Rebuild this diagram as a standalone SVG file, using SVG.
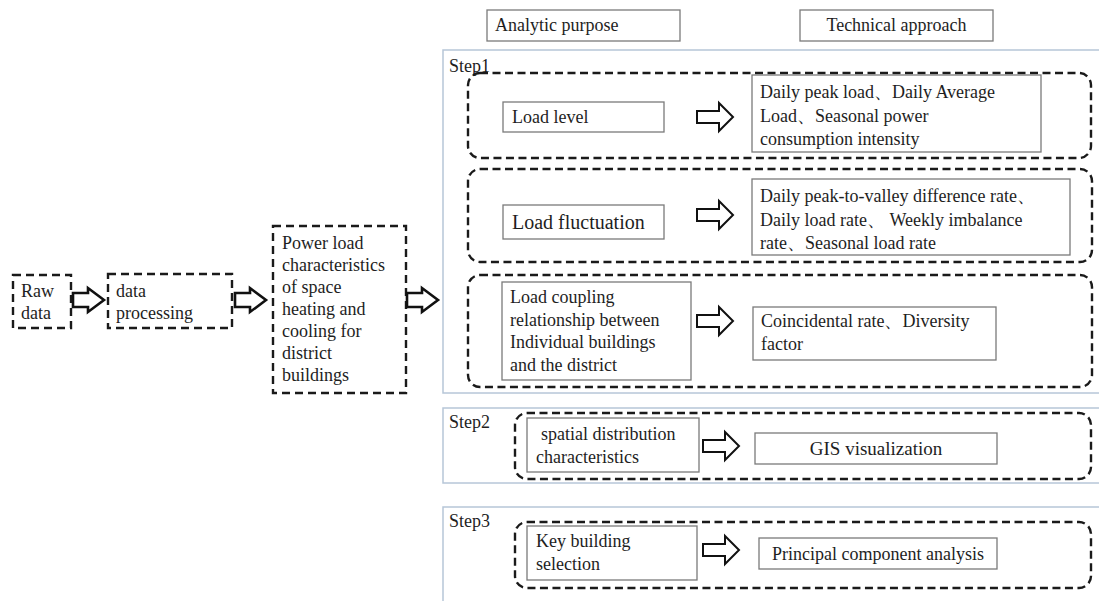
<svg xmlns="http://www.w3.org/2000/svg" xmlns:xlink="http://www.w3.org/1999/xlink" width="1099" height="601" viewBox="0 0 1099 601">
<style>
text{font-family:"Liberation Serif","Times New Roman",serif;font-size:18px;fill:#1e1e1e}
.step{fill:none;stroke:#b7c6d8;stroke-width:1.5}
.dashr{fill:none;stroke:#1a1a1a;stroke-width:2.4;stroke-dasharray:8 4.5}
.dashl{fill:none;stroke:#1a1a1a;stroke-width:2.4;stroke-dasharray:8 5}
.box{fill:#fff;stroke:#7a7a7a;stroke-width:1.3}
.arr{fill:#fff;stroke:#111;stroke-width:2}
.arrl{fill:#fff;stroke:#111;stroke-width:2.6}
.c{text-anchor:middle}
</style>
<defs>
<path id="arrR" d="M0,-6 H22 V-14 L36,0 L22,14 V6 H0 Z"/>
<path id="arrL" d="M0,-7 H15 V-12 L31,0 L15,12 V7 H0 Z"/>
</defs>
<rect width="1099" height="601" fill="#fff"/>

<g id="header-analytic"><rect class="box" x="487" y="10" width="193" height="31"/><text x="495" y="31">Analytic purpose</text></g>
<g id="header-technical"><rect class="box" x="800" y="10" width="193" height="31"/><text class="c" x="896.5" y="31">Technical approach</text></g>

<g id="raw-data"><rect class="dashl" x="13" y="275" width="58" height="53"/><text x="21" y="297">Raw</text><text x="21" y="319">data</text></g>
<g id="data-processing"><rect class="dashl" x="108" y="274" width="124" height="54"/><text x="116" y="297">data</text><text x="116" y="319">processing</text></g>
<g id="power-load"><rect class="dashl" x="273" y="226" width="133" height="167"/>
<text x="282" y="249">Power load</text><text x="282" y="271">characteristics</text><text x="282" y="293">of space</text><text x="282" y="315">heating and</text><text x="282" y="337">cooling for</text><text x="282" y="359">district</text><text x="282" y="381">buildings</text></g>

<g id="step1"><rect class="step" x="443" y="50" width="680" height="343"/><text x="449" y="72">Step1</text>
<g id="group-load-level"><rect class="dashr" x="468" y="73" width="623" height="85" rx="12"/></g>
<g id="load-level"><rect class="box" x="503" y="102" width="161" height="30"/><text x="512" y="123">Load level</text></g>
<g id="tech-load-level"><rect class="box" x="752" y="75" width="289" height="77"/><text x="760" y="98">Daily peak load、Daily Average</text><text x="760" y="122">Load、Seasonal power</text><text x="760" y="145">consumption intensity</text></g>
<g id="group-load-fluctuation"><rect class="dashr" x="468" y="169" width="624" height="93" rx="12"/></g>
<g id="load-fluctuation"><rect class="box" x="503" y="205" width="161" height="34"/><text x="512" y="229" style="font-size:20px">Load fluctuation</text></g>
<g id="tech-load-fluctuation"><rect class="box" x="752" y="179" width="318" height="76"/><text x="760" y="202">Daily peak-to-valley difference rate、</text><text x="760" y="226">Daily load rate、 Weekly imbalance</text><text x="760" y="249">rate、Seasonal load rate</text></g>
<g id="group-load-coupling"><rect class="dashr" x="468" y="275" width="624" height="112" rx="12"/></g>
<g id="load-coupling"><rect class="box" x="502" y="282" width="189" height="98"/><text x="510" y="303">Load coupling</text><text x="510" y="326">relationship between</text><text x="510" y="348">Individual buildings</text><text x="510" y="371">and the district</text></g>
<g id="tech-load-coupling"><rect class="box" x="753" y="307" width="243" height="53"/><text x="761" y="327">Coincidental rate、Diversity</text><text x="761" y="350">factor</text></g>
</g>

<g id="step2"><rect class="step" x="443" y="408" width="680" height="75"/><text x="449" y="428">Step2</text>
<g id="group-spatial"><rect class="dashr" x="515" y="413" width="576" height="66" rx="12"/></g>
<g id="spatial"><rect class="box" x="527" y="418" width="172" height="54"/><text x="541" y="440">spatial distribution</text><text x="536" y="463">characteristics</text></g>
<g id="gis"><rect class="box" x="755" y="433" width="242" height="31"/><text class="c" x="876" y="455" style="font-size:19px">GIS visualization</text></g>
</g>

<g id="step3"><rect class="step" x="443" y="507" width="680" height="120"/><text x="449" y="527">Step3</text>
<g id="group-key"><rect class="dashr" x="515" y="522" width="576" height="66" rx="12"/></g>
<g id="key-building"><rect class="box" x="527" y="526" width="170" height="54"/><text x="536" y="547">Key building</text><text x="536" y="570">selection</text></g>
<g id="pca"><rect class="box" x="759" y="538" width="238" height="31"/><text class="c" x="878" y="560">Principal component analysis</text></g>
</g>

<g id="connectors">
<use href="#arrL" class="arrl" x="73" y="300"/>
<use href="#arrL" class="arrl" x="235" y="300"/>
<use href="#arrL" class="arrl" x="407" y="300"/>
<use href="#arrR" class="arr" x="697" y="117"/>
<use href="#arrR" class="arr" x="697" y="215"/>
<use href="#arrR" class="arr" x="697" y="321"/>
<use href="#arrR" class="arr" x="703" y="446"/>
<use href="#arrR" class="arr" x="703" y="550"/>
</g>
</svg>
